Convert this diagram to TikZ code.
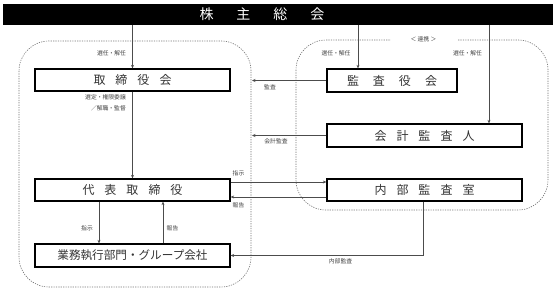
\documentclass[tikz,border=0pt]{standalone}
\usepackage{fontspec}
\newfontfamily\jp{Noto Sans CJK JP}
\usetikzlibrary{arrows.meta}
\begin{document}
\begin{tikzpicture}[x=1pt,y=-1pt,
  box/.style={draw=black, line width=1.3pt, inner sep=0pt, font=\jp\fontsize{12}{12}\selectfont, text=black!80},
  lbl/.style={font=\jp\fontsize{5.8}{6}\selectfont, text=black!75, inner sep=0pt},
  conn/.style={draw=black!70, line width=0.7pt},
  arr/.style={conn, -{Stealth[length=3.5pt,width=3pt]}},
  zone/.style={draw=black!55, line width=0.6pt, dash pattern=on 1.2pt off 1.2pt, rounded corners=30pt}]
\useasboundingbox (0,0) rectangle (557,297);
% zones
\draw[zone] (19,41) rectangle (251,287);
\draw[zone] (296,40) rectangle (548,210);
\node[lbl, fill=white, minimum width=66pt, minimum height=5pt] (renkei) at (423.5,39) {＜ 連携 ＞};
% top bar
\node[fill=black, minimum width=550pt, minimum height=21pt, inner sep=0pt] (bar) at (278,14.5) {};
\node[font=\jp\fontsize{14}{14}\selectfont, text=white, inner sep=0pt] (title) at (262,14.5) {株\hspace{23pt}主\hspace{23pt}総\hspace{23pt}会};
% boxes
\node[box, minimum width=195pt, minimum height=22pt] (tori) at (132.5,80) {取\hspace{10pt}締\hspace{10pt}役\hspace{10pt}会};
\node[box, minimum width=130pt, minimum height=23pt] (kansa) at (392,80.5) {監\hspace{14pt}査\hspace{14pt}役\hspace{14pt}会};
\node[box, minimum width=195pt, minimum height=23pt] (kaikei) at (424.5,135.5) {会\hspace{10pt}計\hspace{10pt}監\hspace{10pt}査\hspace{10pt}人};
\node[box, minimum width=195pt, minimum height=22pt] (daihyo) at (132.5,190) {代\hspace{10pt}表\hspace{10pt}取\hspace{10pt}締\hspace{10pt}役};
\node[box, minimum width=195pt, minimum height=22pt] (naibu) at (424.5,190) {内\hspace{10pt}部\hspace{10pt}監\hspace{10pt}査\hspace{10pt}室};
\node[box, minimum width=195pt, minimum height=23pt, font=\jp\fontsize{11.6}{12}\selectfont] (gyomu) at (132.5,255.5) {業務執行部門・グループ会社};
% helper coordinates
\coordinate (xk) at (358,0);
\coordinate (xa) at (489,0);
\coordinate (lz) at (252,0);
\coordinate (y1) at (0,182);
\coordinate (y2) at (0,197);
\coordinate (x99) at (99,0);
\coordinate (x163) at (163,0);
\coordinate (xn) at (423,0);
% connectors
\draw[arr] (bar.south -| tori.north) -- (tori.north);
\draw[arr] (bar.south -| xk) -- (kansa.north -| xk);
\draw[arr] (bar.south -| xa) -- (kaikei.north -| xa);
\draw[arr] (tori.south) -- (daihyo.north);
\draw[arr] (kansa.west) -- (kansa.west -| lz);
\draw[arr] (kaikei.west) -- (kaikei.west -| lz);
\draw[arr] (daihyo.east |- y1) -- (naibu.west |- y1);
\draw[arr] (naibu.west |- y2) -- (daihyo.east |- y2);
\draw[arr] (daihyo.south -| x99) -- (gyomu.north -| x99);
\draw[arr] (gyomu.north -| x163) -- (daihyo.south -| x163);
\draw[arr] (naibu.south -| xn) |- (gyomu.east);
% labels
\node[lbl] (l1) at (111.5,53) {選任・解任};
\node[lbl] (l2) at (336,53) {選任・解任};
\node[lbl] (l3) at (467.5,53) {選任・解任};
\node[lbl, anchor=east] (l4) at (126,97) {選定・権限委譲};
\node[lbl, anchor=east] (l5) at (126,108) {／解職・監督};
\node[lbl] (l6) at (270,87) {監査};
\node[lbl] (l7) at (276,141) {会計監査};
\node[lbl] (l8) at (238.5,173) {指示};
\node[lbl] (l9) at (238.5,205) {報告};
\node[lbl] (l10) at (87,228) {指示};
\node[lbl] (l11) at (172.5,228) {報告};
\node[lbl] (l12) at (340.5,261) {内部監査};
\end{tikzpicture}
\end{document}
